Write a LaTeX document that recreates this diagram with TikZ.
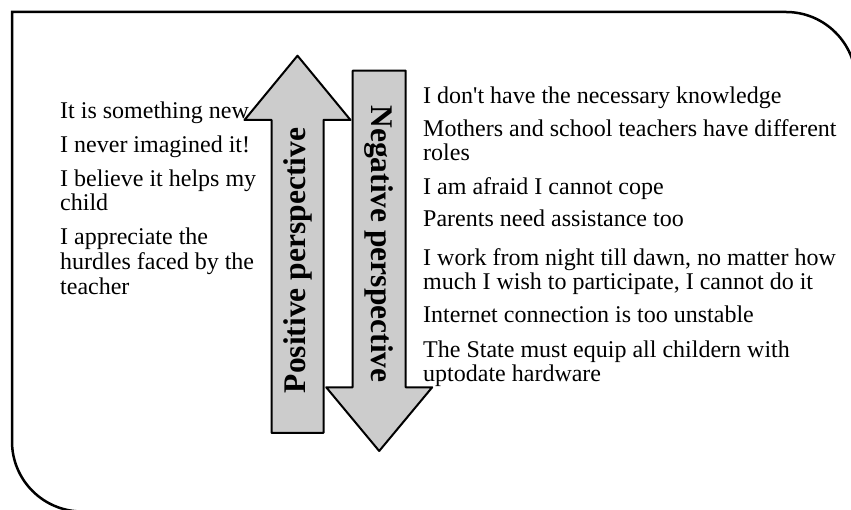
\documentclass[tikz,border=0pt]{standalone}
\usepackage{fontspec}
\setmainfont{Liberation Serif}
\usepackage{tkz-euclide}
\definecolor{arrowgray}{HTML}{CCCCCC}

\begin{document}
\begin{tikzpicture}[x=1pt,y=1pt,
            item/.style={anchor=base west,inner sep=0pt,align=left,
              font=\fontsize{24}{24.8}\selectfont},
            perspective/.style={inner sep=0pt,
              font=\fontsize{31.5}{36}\selectfont\bfseries}]
            \useasboundingbox (0,0) rectangle (851,510);
            % frame
            \draw[line width=2.5pt] (12,498) -- (786,498) arc (90:0:70)
              -- (856,-1.5) -- (82,-1.5) arc (270:180:70) -- cycle;
            % up arrow
            \tkzDefPoint(297.5,454.3){PT}
            \tkzDefPoint(350.5,390){PR}
            \tkzDefPoint(323.5,390){PRi}
            \tkzDefPoint(323.5,77){PRb}
            \tkzDefPoint(271.5,77){PLb}
            \tkzDefPoint(271.5,390){PLi}
            \tkzDefPoint(244.5,390){PL}
            \tkzDrawPolygon[fill=arrowgray,line width=2pt](PT,PR,PRi,PRb,PLb,PLi,PL)
            % down arrow
            \tkzDefPoint(379.2,59){NT}
            \tkzDefPoint(326.2,122.7){NL}
            \tkzDefPoint(352.7,122.7){NLi}
            \tkzDefPoint(352.7,439.3){NLt}
            \tkzDefPoint(405.7,439.3){NRt}
            \tkzDefPoint(405.7,122.7){NRi}
            \tkzDefPoint(432.2,122.7){NR}
            \tkzDrawPolygon[fill=arrowgray,line width=2pt](NT,NL,NLi,NLt,NRt,NRi,NR)
            \node[perspective,rotate=90] (poslabel) at (297.5,249.5) {Positive perspective};
            \node[perspective,rotate=-90] (neglabel) at (379.2,266) {Negative perspective};
            % positive side (base = last line)
            \node[item] (pos1) at (60,391) {It is something new};
            \node[item] (pos2) at (60,357) {I never imagined it!};
            \node[item] (pos3) at (60,299) {I believe it helps my\\child};
            \node[item] (pos4) at (60,215.4) {I appreciate the\\hurdles faced by the\\teacher};
            % negative side (base = last line)
            \node[item] (neg1) at (423,406) {I don\textquotesingle t have the necessary knowledge};
            \node[item] (neg2) at (423,349) {Mothers and school teachers have different\\roles};
            \node[item] (neg3) at (423,315) {I am afraid I cannot cope};
            \node[item] (neg4) at (423,283.3) {Parents need assistance too};
            \node[item] (neg5) at (423,220) {I work from night till dawn, no matter how\\much I wish to participate, I cannot do it};
            \node[item] (neg6) at (423,187) {Internet connection is too unstable};
            \node[item] (neg7) at (423,128) {The State must equip all childern with\\uptodate hardware};
        \end{tikzpicture}
\end{document}
